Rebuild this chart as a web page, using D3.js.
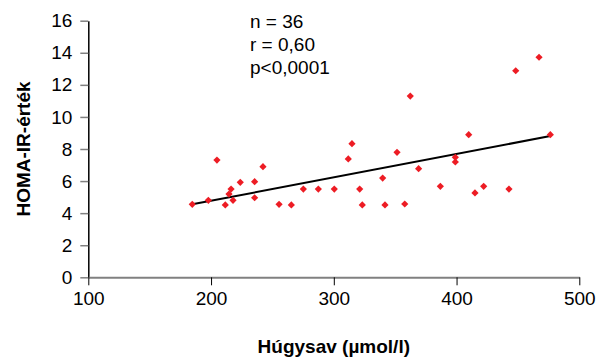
<!DOCTYPE html>
<html>
<head>
<meta charset="utf-8">
<script src="https://cdn.jsdelivr.net/npm/d3@7"></script>
<style>
  body { margin: 0; background: #fff; }
  text { font-family: "Liberation Sans", Arial, sans-serif; }
</style>
</head>
<body>
<div id="container"></div>
<script>
/* CONSTANTS AND GLOBALS */
const width = 601;
const height = 358;
const margin = { top: 20.7, right: 21.7, bottom: 80.7, left: 88.3 };

/* DATA */
const uricAcid = [184.7, 197.8, 204.8, 211.6, 214.6, 216.3, 217.9, 223.8, 235.5, 235.5,
  242.3, 255.4, 265.4, 275.2, 287.4, 300.4, 311.8, 314.8, 321.1, 323.2,
  339.8, 341.7, 351.5, 357.8, 362.3, 369.1, 386.8, 399.0, 399.0, 409.9,
  415.0, 422.1, 442.7, 448.2, 467.2, 476.4];
const homaIR = [4.55, 4.80, 7.31, 4.51, 5.19, 5.50, 4.80, 5.92, 5.96, 4.96,
  6.90, 4.55, 4.51, 5.50, 5.50, 5.50, 7.38, 8.33, 5.50, 4.51,
  6.19, 4.51, 7.79, 4.57, 11.30, 6.77, 5.67, 7.48, 7.19, 8.89,
  5.26, 5.67, 5.50, 12.88, 13.72, 8.89];
const xTicks = [100, 200, 300, 400, 500];
const yTicks = [0, 2, 4, 6, 8, 10, 12, 14, 16];
// trend line (intercept, slope)
const trendIntercept = 1.853;
const trendSlope = 0.0146;
const statLines = ["n = 36", "r  = 0,60", "p<0,0001"];

const data = uricAcid.map((x, i) => ({ x: x, y: homaIR[i] }));

/* SCALES */
const xScale = d3.scaleLinear()
  .domain([100, 500])
  .range([margin.left, width - margin.right]);

const yScale = d3.scaleLinear()
  .domain([0, 16])
  .range([height - margin.bottom, margin.top]);

/* SVG */
const svg = d3.select("#container")
  .append("svg")
  .attr("width", width)
  .attr("height", height);

// y axis
const yAxis = svg.append("g")
  .attr("transform", `translate(${xScale(100)},0)`)
  .call(d3.axisLeft(yScale).tickValues(yTicks).tickSize(8).tickPadding(8).tickSizeOuter(0));
yAxis.select(".domain").attr("stroke", "#000").attr("stroke-width", 1.5);
yAxis.selectAll(".tick line").attr("stroke", "#808080").attr("stroke-width", 1.5);
yAxis.selectAll(".tick text").attr("font-size", 19).attr("font-family", "Liberation Sans, Arial, sans-serif").attr("fill", "#000");

// x axis
const xAxis = svg.append("g")
  .attr("transform", `translate(0,${yScale(0)})`)
  .call(d3.axisBottom(xScale).tickValues(xTicks).tickSize(8).tickPadding(6).tickSizeOuter(0));
xAxis.select(".domain").attr("stroke", "#808080").attr("stroke-width", 2);
xAxis.selectAll(".tick line").attr("stroke", "#000");
xAxis.selectAll(".tick text").attr("font-size", 19).attr("font-family", "Liberation Sans, Arial, sans-serif").attr("fill", "#000");

// axis titles
svg.append("text")
  .attr("x", (xScale(100) + xScale(500)) / 2)
  .attr("y", 353)
  .attr("text-anchor", "middle")
  .attr("font-size", 19)
  .attr("font-weight", "bold")
  .text("Húgysav (µmol/l)");

svg.append("text")
  .attr("transform", `translate(30,${yScale(8)}) rotate(-90)`)
  .attr("text-anchor", "middle")
  .attr("font-size", 19)
  .attr("font-weight", "bold")
  .text("HOMA-IR-érték");

// stats annotation
svg.selectAll(".stat")
  .data(statLines)
  .join("text")
  .attr("class", "stat")
  .attr("x", 250)
  .attr("y", (d, i) => 28 + i * 23)
  .attr("font-size", 19)
  .text(d => d);

// trend line
const xExtent = d3.extent(uricAcid);
const line = d3.line()
  .x(d => xScale(d))
  .y(d => yScale(trendIntercept + trendSlope * d));
svg.append("path")
  .datum(xExtent)
  .attr("d", line)
  .attr("fill", "none")
  .attr("stroke", "#000")
  .attr("stroke-width", 2);

// points
const diamond = d3.symbol().type(d3.symbolSquare).size(26);
svg.selectAll(".pt")
  .data(data)
  .join("path")
  .attr("class", "pt")
  .attr("d", diamond)
  .attr("transform", d => `translate(${xScale(d.x)},${yScale(d.y)}) rotate(45)`)
  .attr("fill", "#ed1c24");
</script>
</body>
</html>
